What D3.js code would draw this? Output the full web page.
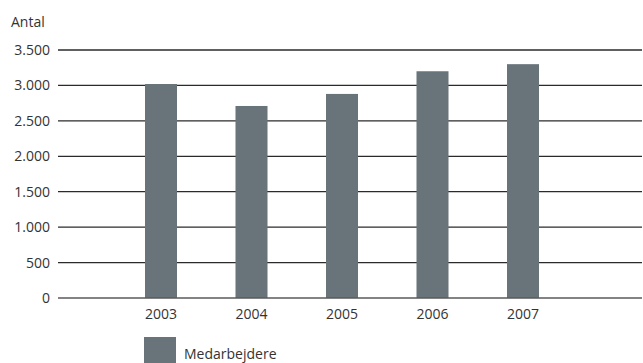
<!DOCTYPE html>
<html><head><meta charset="utf-8">
<script src="https://cdn.jsdelivr.net/npm/d3@7"></script>
<style>body{margin:0;background:#fff}svg{display:block}</style>
</head><body>
<script>
const categories = ["2003","2004","2005","2006","2007"];
const values = [3020, 2710, 2880, 3200, 3300];
const yTicks = [0,500,1000,1500,2000,2500,3000,3500];
const yTickLabels = ["0","500","1.000","1.500","2.000","2.500","3.000","3.500"];
const seriesName = "Medarbejdere";
const axisTitle = "Antal";

const W=643,H=363;
const svg=d3.select("body").append("svg").attr("width",W).attr("height",H);
const font="'Open Sans', 'DejaVu Sans', sans-serif";
const fs=14;
const x=d3.scalePoint().domain(categories).range([161,523]);
const y=d3.scaleLinear().domain([0,3500]).range([298,50]);
const barW=32, col="#68737a";

svg.append("g").selectAll("line").data(yTicks.filter(d=>d>0)).join("line")
  .attr("x1",58).attr("x2",642).attr("y1",d=>y(d)).attr("y2",d=>y(d))
  .attr("stroke","#2b2b2b").attr("stroke-width",1.3);

svg.append("g").selectAll("rect").data(values).join("rect")
  .attr("x",(d,i)=>x(categories[i])-barW/2).attr("width",barW)
  .attr("y",d=>y(d)).attr("height",d=>y(0)-y(d)).attr("fill",col);

svg.append("line").attr("x1",58).attr("x2",642).attr("y1",y(0)).attr("y2",y(0))
  .attr("stroke","#5a5a5a").attr("stroke-width",1.6);

svg.append("g").selectAll("text").data(yTicks).join("text")
  .attr("x",50).attr("y",d=>y(d)+5).attr("text-anchor","end")
  .attr("font-family",font).attr("font-size",fs).attr("fill","#333")
  .text((d,i)=>yTickLabels[i]);

svg.append("g").selectAll("text").data(categories).join("text")
  .attr("x",d=>x(d)).attr("y",319).attr("text-anchor","middle")
  .attr("font-family",font).attr("font-size",fs).attr("fill","#333").text(d=>d);

svg.append("text").attr("x",11).attr("y",27).attr("font-family",font)
  .attr("font-size",fs).attr("fill","#333").text(axisTitle);

svg.append("rect").attr("x",144).attr("y",337).attr("width",32).attr("height",26).attr("fill",col);
svg.append("text").attr("x",184).attr("y",359).attr("font-family",font)
  .attr("font-size",fs).attr("fill","#333").text(seriesName);
</script>
</body></html>
